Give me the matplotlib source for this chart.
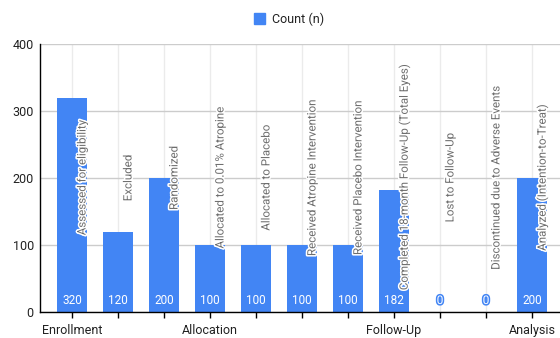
import matplotlib.pyplot as plt
import matplotlib.patheffects as pe
from matplotlib.patches import Patch

plt.rcParams['font.family'] = ['Roboto', 'DejaVu Sans']

steps = [
    "Assessed for eligibility",
    "Excluded",
    "Randomized",
    "Allocated to 0.01% Atropine",
    "Allocated to Placebo",
    "Received Atropine Intervention",
    "Received Placebo Intervention",
    "Completed 18-month Follow-Up (Total Eyes)",
    "Lost to Follow-Up",
    "Discontinued due to Adverse Events",
    "Analyzed (Intention-to-Treat)",
]
counts = [320, 120, 200, 100, 100, 100, 100, 182, 0, 0, 200]
stages = ["Enrollment", "", "", "Allocation", "", "", "", "Follow-Up", "", "", "Analysis"]
yticks = [0, 100, 200, 300, 400]

BLUE = "#4285F4"

fig = plt.figure(figsize=(5.6, 3.38), dpi=100)
ax = fig.add_axes([40 / 560, 26 / 338, 520 / 560, 268 / 338])

x = list(range(len(steps)))
ax.bar(x, counts, width=0.65, color=BLUE, zorder=3)

ax.set_xlim(-0.696, 10.61)
ax.set_ylim(0, 400)

# grid
ax.set_yticks(yticks)
ax.yaxis.grid(True, color="#cccccc", linewidth=1, zorder=0)
ax.set_xticks(x)
ax.set_xticklabels(stages)
ax.xaxis.grid(True, color="#ebebeb", linewidth=1, zorder=0)
ax.set_axisbelow(True)

for s in ("top", "right"):
    ax.spines[s].set_visible(False)
for s in ("left", "bottom"):
    ax.spines[s].set_color("#000000")
    ax.spines[s].set_linewidth(1)
    ax.spines[s].set_zorder(4)

ax.tick_params(axis="y", length=0, pad=4.5, labelsize=9, labelcolor="#222222")
ax.tick_params(axis="x", length=4.5, width=1, color="#000000", pad=4,
               labelsize=9, labelcolor="#222222")

# step names, centred halfway up the plot
for i, name in enumerate(steps):
    ax.text(i + 10 / 46, 200, name, rotation=90, ha="center", va="center",
            fontsize=8.3, color="#6e6e6e", zorder=5,
            path_effects=[pe.withStroke(linewidth=2.2, foreground="white")])

# counts at the foot of each bar
for i, v in enumerate(counts):
    effects = [pe.withStroke(linewidth=2.2, foreground=BLUE)] if v == 0 else None
    ax.annotate(str(v), (i, 0), xytext=(0, 8.3), textcoords="offset points",
                ha="center", va="center", fontsize=8.5, color="white",
                zorder=6, path_effects=effects)

fig.legend(handles=[Patch(color=BLUE, label="Count (n)")], loc="center",
           bbox_to_anchor=(289 / 560, 1 - 19 / 338), frameon=False,
           handlelength=0.9, handleheight=0.9, handletextpad=0.6,
           fontsize=9, labelcolor="#222222")

fig.savefig("out.png", dpi=100)
